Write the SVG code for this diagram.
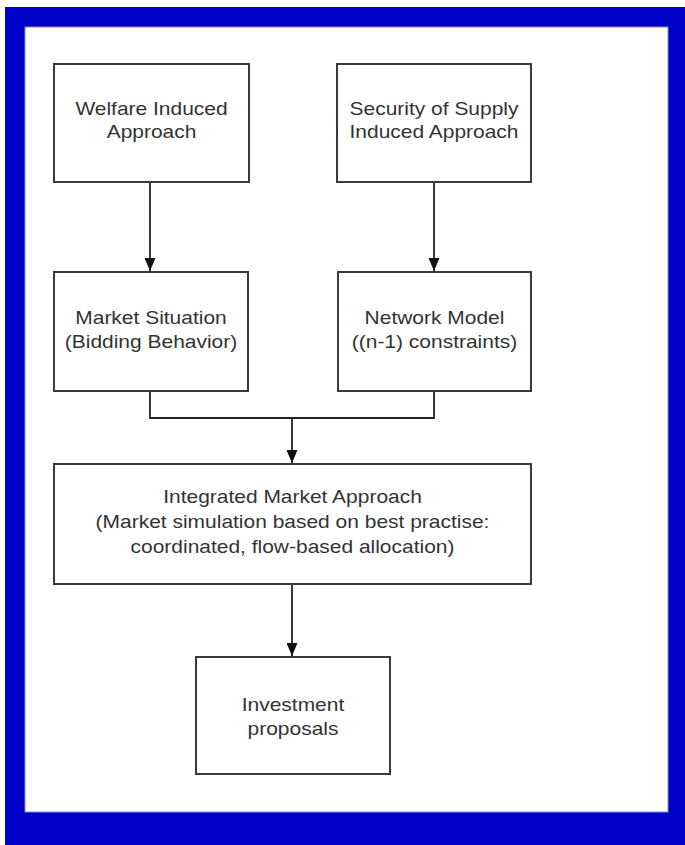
<svg xmlns="http://www.w3.org/2000/svg" width="685" height="845" viewBox="0 0 685 845">
  <style>
    .box { fill: #ffffff; stroke: #3a3a3a; stroke-width: 2; }
    .lbl { font-family: "Liberation Sans", Arial, sans-serif; font-size: 18px; fill: #333333; text-anchor: middle; }
    .wire { fill: none; stroke: #222222; stroke-width: 1.8; }
  </style>
  <defs>
    <marker id="arrow" viewBox="0 0 10 10" refX="10" refY="5" markerWidth="13" markerHeight="11" preserveAspectRatio="none" orient="auto" markerUnits="userSpaceOnUse">
      <path d="M0,0 L10,5 L0,10 Z" fill="#111111"/>
    </marker>
  </defs>

  <!-- page background and blue frame -->
  <rect x="0" y="0" width="685" height="845" fill="#ffffff"/>
  <rect x="5" y="7" width="680" height="838" fill="#0000c8"/>
  <rect x="25" y="27" width="643" height="785" fill="#ffffff" stroke="#8a8ac8" stroke-width="1"/>

  <!-- connectors -->
  <g id="connectors">
    <line class="wire" x1="150" y1="183" x2="150" y2="271" marker-end="url(#arrow)"/>
    <line class="wire" x1="434" y1="183" x2="434" y2="271" marker-end="url(#arrow)"/>
    <polyline class="wire" points="150,391 150,418 434,418 434,391"/>
    <line class="wire" x1="292" y1="418" x2="292" y2="463" marker-end="url(#arrow)"/>
    <line class="wire" x1="292" y1="584" x2="292" y2="656" marker-end="url(#arrow)"/>
  </g>

  <g id="welfare">
    <rect class="box" x="54" y="64" width="195" height="118"/>
    <g transform="translate(151.5,0) scale(1.165,1)">
      <text class="lbl" x="0" y="115">Welfare Induced</text>
      <text class="lbl" x="0" y="138">Approach</text>
    </g>
  </g>

  <g id="security">
    <rect class="box" x="337" y="64" width="194" height="118"/>
    <g transform="translate(434,0) scale(1.165,1)">
      <text class="lbl" x="0" y="115">Security of Supply</text>
      <text class="lbl" x="0" y="138">Induced Approach</text>
    </g>
  </g>

  <g id="market-situation">
    <rect class="box" x="54" y="272" width="194" height="119"/>
    <g transform="translate(151,0) scale(1.165,1)">
      <text class="lbl" x="0" y="324">Market Situation</text>
      <text class="lbl" x="0" y="348">(Bidding Behavior)</text>
    </g>
  </g>

  <g id="network-model">
    <rect class="box" x="338" y="272" width="193" height="119"/>
    <g transform="translate(434.5,0) scale(1.165,1)">
      <text class="lbl" x="0" y="324">Network Model</text>
      <text class="lbl" x="0" y="348">((n-1) constraints)</text>
    </g>
  </g>

  <g id="integrated">
    <rect class="box" x="54" y="464" width="477" height="120"/>
    <g transform="translate(292.5,0) scale(1.165,1)">
      <text class="lbl" x="0" y="503">Integrated Market Approach</text>
      <text class="lbl" x="0" y="528">(Market simulation based on best practise:</text>
      <text class="lbl" x="0" y="553">coordinated, flow-based allocation)</text>
    </g>
  </g>

  <g id="investment">
    <rect class="box" x="196" y="657" width="194" height="117"/>
    <g transform="translate(293,0) scale(1.165,1)">
      <text class="lbl" x="0" y="711">Investment</text>
      <text class="lbl" x="0" y="735">proposals</text>
    </g>
  </g>
</svg>
